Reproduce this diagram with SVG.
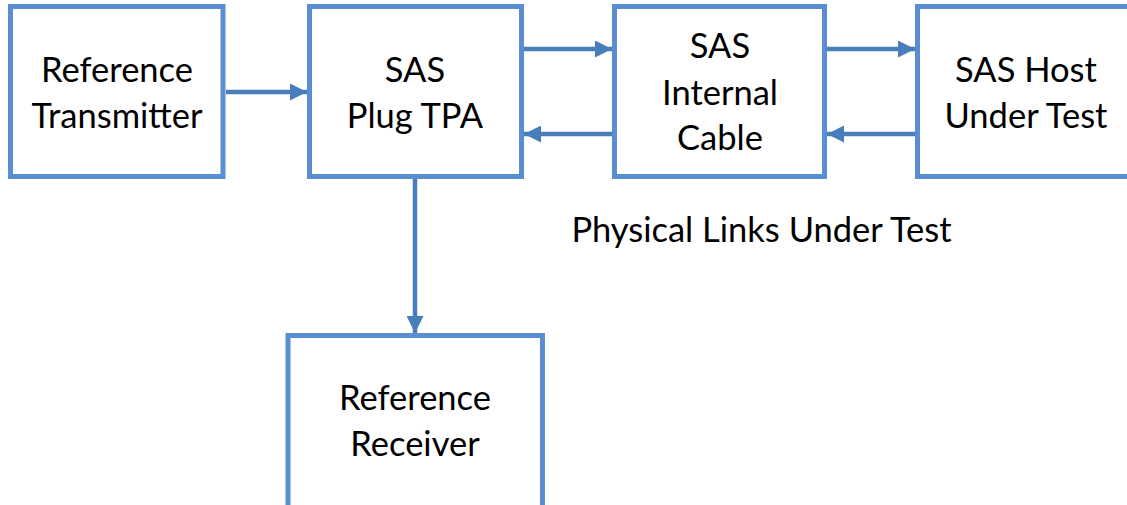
<svg xmlns="http://www.w3.org/2000/svg" width="1127" height="505" viewBox="0 0 1127 505">
<defs>
<style>
.box{fill:#fff;stroke:#5A8ED3;stroke-width:5}
.lbl{font-family:Lato,"Open Sans","Liberation Sans",sans-serif;font-size:34.5px;fill:#000;text-anchor:middle}
.con{stroke:#4A7EBB;stroke-width:4.5;fill:none}
</style>
<marker id="ah" viewBox="0 0 10 10" refX="10" refY="5" markerUnits="userSpaceOnUse" markerWidth="25" markerHeight="17" orient="auto">
<path d="M0,0 L10,5 L0,10 z" fill="#4A7EBB"/>
</marker>
</defs>
<rect width="1127" height="505" fill="#fff"/>
<g id="connectors">
<line class="con" x1="226" y1="92" x2="307" y2="92" marker-end="url(#ah)"/>
<line class="con" x1="524" y1="49" x2="612" y2="49" marker-end="url(#ah)"/>
<line class="con" x1="612" y1="134" x2="524" y2="134" marker-end="url(#ah)"/>
<line class="con" x1="827" y1="49" x2="915" y2="49" marker-end="url(#ah)"/>
<line class="con" x1="915" y1="134" x2="827" y2="134" marker-end="url(#ah)"/>
<line class="con" x1="415" y1="179" x2="415" y2="333" marker-end="url(#ah)"/>
</g>
<g id="ref-transmitter">
<rect class="box" x="10.5" y="6.5" width="212.5" height="170"/>
<text class="lbl" x="117" y="82">Reference</text>
<text class="lbl" x="117" y="128">Transmitter</text>
</g>
<g id="sas-plug-tpa">
<rect class="box" x="309.5" y="6.5" width="212" height="170"/>
<text class="lbl" x="415" y="82">SAS</text>
<text class="lbl" x="415" y="128">Plug TPA</text>
</g>
<g id="sas-internal-cable">
<rect class="box" x="614.5" y="6.5" width="210" height="170"/>
<text class="lbl" x="720" y="58">SAS</text>
<text class="lbl" x="720" y="105">Internal</text>
<text class="lbl" x="720" y="150">Cable</text>
</g>
<g id="sas-host">
<rect class="box" x="917.5" y="6.5" width="220" height="170"/>
<text class="lbl" x="1026" y="82">SAS Host</text>
<text class="lbl" x="1026" y="128">Under Test</text>
</g>
<g id="ref-receiver">
<rect class="box" x="288" y="335.5" width="254.5" height="180"/>
<text class="lbl" x="415" y="410">Reference</text>
<text class="lbl" x="415" y="456">Receiver</text>
</g>
<text class="lbl" x="761.5" y="242">Physical Links Under Test</text>
</svg>
